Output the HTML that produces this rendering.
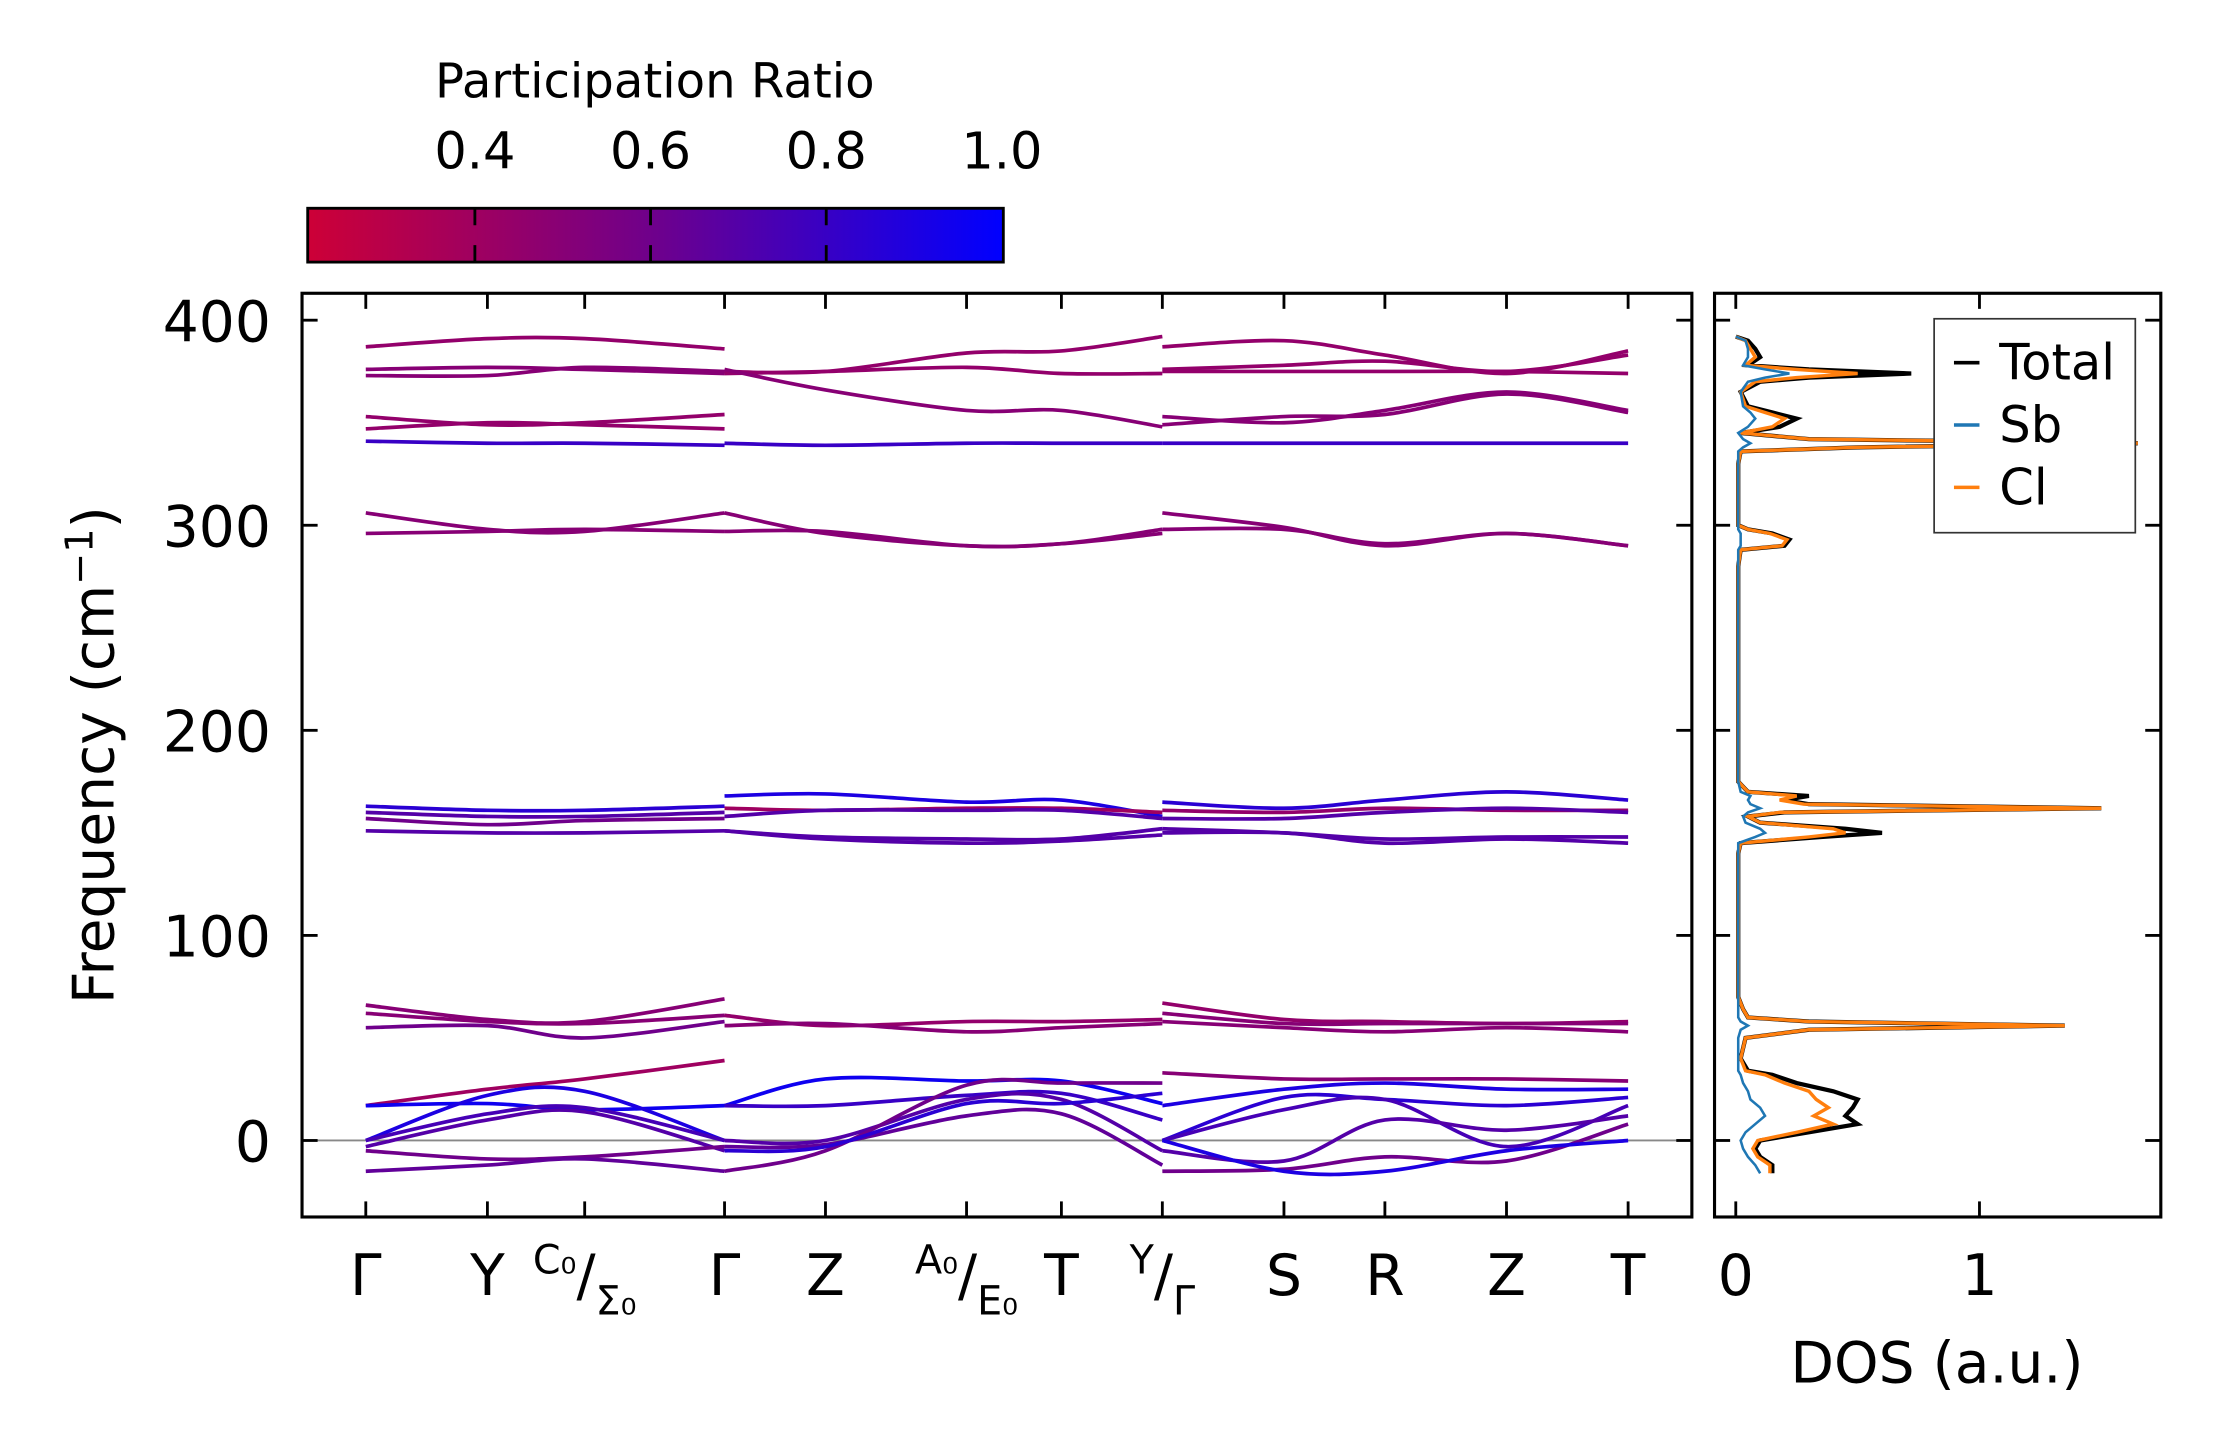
<!DOCTYPE html>
<html><head><meta charset="utf-8"><style>
html,body{margin:0;padding:0;background:#fff;}
svg{display:block;font-family:"DejaVu Sans","Liberation Sans",sans-serif;}
</style></head><body>
<svg id="chart" width="2222" height="1455" viewBox="0 0 1568 1027" xmlns="http://www.w3.org/2000/svg">
<defs>
<linearGradient id="cmap" x1="0" x2="1" y1="0" y2="0">
<stop offset="0" stop-color="rgb(205,0,55)"/><stop offset="0.5" stop-color="rgb(110,0,140)"/><stop offset="1" stop-color="rgb(0,0,255)"/>
</linearGradient>
<clipPath id="clipMain"><rect x="213" y="207" width="981" height="652"/></clipPath>
<clipPath id="clipDos"><rect x="1210" y="207" width="315" height="652"/></clipPath>
</defs>
<g id="colorbar">
<text x="462" y="69" font-size="34" text-anchor="middle">Participation Ratio</text>
<rect x="217" y="147" width="491" height="38" fill="url(#cmap)" stroke="#000" stroke-width="2"/>
</g>
<g id="main"></g>
<g id="dos"></g>
</svg>
<script>
const NS='http://www.w3.org/2000/svg';
// ---- data ----
const cbTicks=[0.4,0.6,0.8,1.0];
const kLabels=['Γ','Y','C/Σ','Γ','Z','A/E','T','Y/Γ','S','R','Z','T'];
const kPos=[0,1,1.8,2.95,3.78,4.94,5.72,6.55,7.55,8.38,9.38,10.38];
const yTicks=[0,100,200,300,400];
const seg1Nodes=[0,1,1.8,2.95];
const seg2Nodes=[2.95,3.78,4.94,5.72,6.55];
const seg3Nodes=[6.55,7.55,8.38,9.38,10.38];
const seg1Bands=[[387,391,391,386],[376,377,376,374],[373,373,377,375],[353,349,350,354],[347,350,349,347],[341,340,340,339],[306,298,297,306],[296,297,298,297],[163,161,161,163],[160,158,158,160],[157,154,156,157],[151,150,150,151],[66,59,58,69],[62,58,57,61],[55,56,50,58],[17,25,30,39],[17,18,15,17],[0,22,24,0],[0,13,16,0],[-3,10,14,-5],[-5,-9,-8,-3],[-15,-12,-9,-15]];
const seg1Ratio=[0.45,0.5,0.5,0.45,0.45,0.8,0.5,0.5,0.85,0.7,0.6,0.7,0.5,0.5,0.6,0.4,0.95,0.9,0.75,0.7,0.6,0.65];
const seg2Bands=[[375,375,384,385,392],[374,375,377,374,374],[376,366,356,356,348],[340,339,340,340,340],[306,296,290,291,298],[297,297,290,291,296],[168,169,165,166,158],[162,161,162,162,160],[158,161,161,161,157],[151,148,147,147,152],[151,147,145,146,149],[61,56,58,58,59],[56,57,53,55,57],[17,30,29,29,18],[17,17,22,23,10],[0,0,20,20,-5],[-3,-2,12,13,-12],[-15,-5,27,28,28],[-5,-3,18,18,23]];
const seg2Ratio=[0.45,0.45,0.5,0.8,0.5,0.5,0.9,0.4,0.7,0.7,0.7,0.45,0.5,0.95,0.8,0.7,0.65,0.6,0.85];
const seg3Bands=[[387,390,383,374,385],[376,378,380,375,383],[375,375,375,375,374],[353,350,356,365,356],[349,353,354,364,355],[340,340,340,340,340],[306,299,290,296,290],[298,298,291,296,290],[165,162,166,170,166],[161,160,162,161,161],[157,157,160,162,160],[152,150,147,148,148],[150,150,145,147,145],[67,59,58,57,58],[62,57,57,57,57],[58,55,53,55,53],[33,30,30,30,29],[17,25,28,25,25],[0,21,20,17,21],[0,15,20,-3,17],[-5,-10,10,5,12],[-15,-14,-8,-10,8],[0,-15,-15,-5,0]];
const seg3Ratio=[0.45,0.45,0.45,0.5,0.5,0.8,0.5,0.5,0.85,0.45,0.7,0.7,0.7,0.45,0.5,0.5,0.5,0.9,0.85,0.75,0.7,0.6,0.9];
const dosFreq=[-16,-12,-8,-4,0,4,8,12,16,20,24,28,32,34,40,50,54,56,58,60,64,70,100,140,145,148,150,152,155,158,160,162,164,166,168,170,175,200,280,288,290,293,296,298,300,330,336,338,340,342,345,348,352,355,358,365,370,372,374,376,378,382,386,390,392];
const dosTotal=[0.15,0.15,0.1,0.08,0.1,0.3,0.5,0.45,0.48,0.5,0.4,0.25,0.15,0.05,0.02,0.04,0.3,1.35,0.3,0.05,0.03,0.01,0.01,0.01,0.02,0.35,0.6,0.45,0.1,0.05,0.2,1.5,0.3,0.2,0.3,0.05,0.01,0.01,0.01,0.02,0.2,0.22,0.15,0.05,0.01,0.01,0.02,0.5,1.65,0.3,0.02,0.18,0.25,0.15,0.05,0.02,0.1,0.3,0.72,0.3,0.05,0.1,0.08,0.05,0];
const dosCl=[0.14,0.14,0.09,0.07,0.09,0.25,0.4,0.32,0.38,0.33,0.3,0.2,0.12,0.04,0.02,0.04,0.3,1.35,0.3,0.05,0.03,0.01,0.01,0.01,0.02,0.3,0.45,0.4,0.1,0.05,0.18,1.5,0.28,0.18,0.25,0.05,0.01,0.01,0.01,0.02,0.19,0.21,0.14,0.05,0.01,0.01,0.02,0.5,1.65,0.3,0.02,0.15,0.2,0.12,0.04,0.02,0.08,0.25,0.5,0.25,0.04,0.08,0.06,0.04,0];
const dosSb=[0.1,0.08,0.05,0.03,0.02,0.04,0.08,0.12,0.1,0.06,0.05,0.03,0.02,0.01,0.01,0.01,0.02,0.05,0.02,0.01,0.01,0.01,0.01,0.01,0.01,0.08,0.12,0.1,0.04,0.03,0.05,0.1,0.06,0.05,0.06,0.02,0.01,0.01,0.01,0.01,0.02,0.02,0.02,0.01,0.01,0.01,0.01,0.03,0.06,0.03,0.01,0.05,0.08,0.06,0.03,0.02,0.05,0.12,0.22,0.12,0.03,0.05,0.05,0.04,0];
// ---- scales ----
const X0=258,X1=1149,Y0=805,YS=144.75/100;
const xs=k=>X0+(X1-X0)*k/kPos[kPos.length-1];
const ys=f=>Y0-f*YS;
const dx=v=>1225+v*172;
const cbx=v=>335+(v-0.4)*(124/0.2);
function col(r){let t=Math.max(0,Math.min(1,(r-0.21)/0.79));let a,b,u;if(t<0.5){a=[205,0,55];b=[110,0,140];u=t/0.5;}else{a=[110,0,140];b=[0,0,255];u=(t-0.5)/0.5;}return `rgb(${a.map((c,i)=>Math.round(c+(b[i]-c)*u)).join(',')})`;}
function mk(tag,at,parent){const e=document.createElementNS(NS,tag);for(const k in at)e.setAttribute(k,at[k]);parent.appendChild(e);return e;}
function smooth(pts){let d=`M${pts[0][0]},${pts[0][1]}`;for(let i=0;i<pts.length-1;i++){const p0=pts[i-1]||pts[i],p1=pts[i],p2=pts[i+1],p3=pts[i+2]||p2;const c1=[p1[0]+(p2[0]-p0[0])/6,p1[1]+(p2[1]-p0[1])/6],c2=[p2[0]-(p3[0]-p1[0])/6,p2[1]-(p3[1]-p1[1])/6];d+=` C${c1[0]},${c1[1]} ${c2[0]},${c2[1]} ${p2[0]},${p2[1]}`;}return d;}
const FS=40;
// colorbar ticks
const cb=document.getElementById('colorbar');
cbTicks.forEach(v=>{const x=cbx(v);
if(v<1){const l=mk('path',{d:`M${x},147 V159 M${x},173 V185`,stroke:'#000','stroke-width':2},cb);

}
const t=mk('text',{x:x,y:119,'font-size':36,'text-anchor':'middle'},cb);t.textContent=v.toFixed(1);

});
// main axes
const m=document.getElementById('main');
mk('line',{x1:213,x2:1194,y1:Y0,y2:Y0,stroke:'#888','stroke-width':1.3},m);
const bg=mk('g',{'clip-path':'url(#clipMain)'},m);
[[seg1Nodes,seg1Bands,seg1Ratio],[seg2Nodes,seg2Bands,seg2Ratio],[seg3Nodes,seg3Bands,seg3Ratio]].forEach(([nodes,bands,rat],si)=>{
bands.forEach((b,i)=>{const p=mk('path',{d:smooth(b.map((f,j)=>[xs(nodes[j]),ys(f)])),fill:'none',stroke:col(rat[i]),'stroke-width':2.6},bg);

});});
mk('rect',{x:213,y:207,width:981,height:652,fill:'none',stroke:'#000','stroke-width':2.2},m);
yTicks.forEach(v=>{const y=ys(v);
mk('line',{x1:213,x2:224,y1:y,y2:y,stroke:'#000','stroke-width':2},m);
mk('line',{x1:1183,x2:1194,y1:y,y2:y,stroke:'#000','stroke-width':2},m);
const t=mk('text',{x:191,y:y+15,'font-size':FS,'text-anchor':'end'},m);t.textContent=v;

});
kPos.forEach((k,i)=>{const x=xs(k);
mk('line',{x1:x,x2:x,y1:848,y2:859,stroke:'#000','stroke-width':2},m);
mk('line',{x1:x,x2:x,y1:207,y2:218,stroke:'#000','stroke-width':2},m);
const lab=kLabels[i];const t=mk('text',{x:x,y:914,'font-size':FS,'text-anchor':'middle'},m);


if(lab.includes('/')){const [a,b]=lab.split('/');
const sa=a==='Γ'||a==='Y'?a:a+'₀', sb=b==='Γ'?b:b+'₀';
t.innerHTML=`<tspan font-size="28" dy="-15">${sa}</tspan><tspan dy="15">/</tspan><tspan font-size="28" dy="14">${sb}</tspan>`;}
else t.textContent=lab;});
const yl=mk('text',{transform:'translate(80,533) rotate(-90)','font-size':FS,'text-anchor':'middle'},m);
yl.innerHTML='Frequency (cm<tspan font-size="27" dy="-15">−1</tspan><tspan dy="15">)</tspan>';


// DOS
const d=document.getElementById('dos');
const dg=mk('g',{'clip-path':'url(#clipDos)'},d);
[[dosTotal,'#000',3,'dos-total'],[dosCl,'#ff7f0e',2.4,'dos-cl'],[dosSb,'#1f77b4',1.8,'dos-sb']].forEach(([arr,c,w,n])=>{
const p=mk('polyline',{points:arr.map((v,i)=>dx(v)+','+ys(dosFreq[i])).join(' '),fill:'none',stroke:c,'stroke-width':w},dg);

});
mk('rect',{x:1210,y:207,width:315,height:652,fill:'none',stroke:'#000','stroke-width':2.2},d);
yTicks.forEach(v=>{const y=ys(v);
mk('line',{x1:1210,x2:1221,y1:y,y2:y,stroke:'#000','stroke-width':2},d);
mk('line',{x1:1514,x2:1525,y1:y,y2:y,stroke:'#000','stroke-width':2},d);});
[0,1].forEach(v=>{const x=dx(v);
mk('line',{x1:x,x2:x,y1:848,y2:859,stroke:'#000','stroke-width':2},d);
mk('line',{x1:x,x2:x,y1:207,y2:218,stroke:'#000','stroke-width':2},d);
const t=mk('text',{x:x,y:914,'font-size':FS,'text-anchor':'middle'},d);t.textContent=v;

});
const xl=mk('text',{x:1367,y:976,'font-size':FS,'text-anchor':'middle'},d);xl.textContent='DOS (a.u.)';


const lg=mk('g',{},d);


mk('rect',{x:1365,y:225,width:142,height:151,fill:'#fff',stroke:'#333','stroke-width':1.2},lg);
[['Total','#000'],['Sb','#1f77b4'],['Cl','#ff7f0e']].forEach(([n,c],i)=>{const y=256+i*44;
mk('line',{x1:1379,x2:1397,y1:y,y2:y,stroke:c,'stroke-width':2.5},lg);
const t=mk('text',{x:1411,y:y+12,'font-size':35},lg);t.textContent=n;

});
</script>
</body></html>
